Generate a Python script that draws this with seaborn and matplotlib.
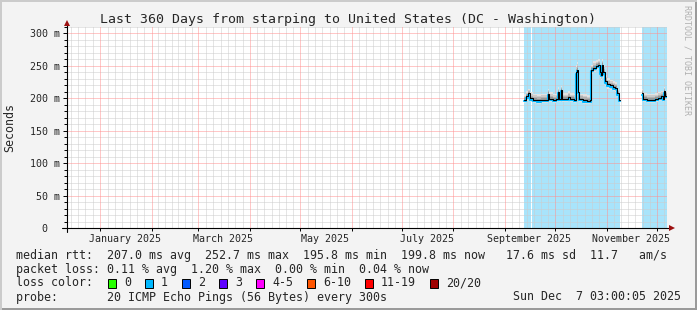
import numpy as np
import pandas as pd
import matplotlib
matplotlib.use("Agg")
import matplotlib.pyplot as plt
import matplotlib.transforms as mtransforms
from matplotlib.patches import Rectangle
from matplotlib.ticker import MultipleLocator, FixedLocator
import seaborn as sns

# ---------------- data ----------------
title = "Last 360 Days from starping to United States (DC - Washington)"
y_label = "Seconds"
ytick_values = [0, 50, 100, 150, 200, 250, 300]
ytick_labels = ["0  ", " 50 m", "100 m", "150 m", "200 m", "250 m", "300 m"]
month_labels = ["January 2025", "March 2025", "May 2025", "July 2025",
                "September 2025", "November 2025"]
month_label_dates = ["2025-01-16 00:00", "2025-03-16 00:00", "2025-05-16 00:00", "2025-07-16 00:00",
                     "2025-09-15 12:00", "2025-11-15 12:00"]
range_start = "2024-12-12 03:00"
range_end = "2025-12-07 03:00"

# light-blue shaded periods (loss indicator)
band_starts = ["2025-09-12 10:00", "2025-09-17 05:00", "2025-11-22 05:00"]
band_ends = ["2025-09-16 14:00", "2025-11-09 00:00", "2025-12-07 03:00"]

# segment 1 (median rtt in ms, smoke range)
seg1_dates = ["2025-09-12 10:00", "2025-09-13 14:00", "2025-09-14 19:00", "2025-09-16 00:00",
              "2025-09-17 19:00", "2025-09-20 05:00", "2025-09-22 14:00", "2025-09-25 00:00",
              "2025-09-26 19:00", "2025-09-27 10:00", "2025-09-29 19:00", "2025-10-01 14:00",
              "2025-10-02 19:00", "2025-10-03 10:00", "2025-10-04 14:00", "2025-10-05 05:00",
              "2025-10-07 00:00", "2025-10-08 19:00", "2025-10-10 00:00", "2025-10-12 10:00",
              "2025-10-13 14:00", "2025-10-14 05:00", "2025-10-14 19:00", "2025-10-15 10:00",
              "2025-10-17 19:00", "2025-10-20 05:00", "2025-10-22 00:00", "2025-10-22 14:00",
              "2025-10-23 19:00", "2025-10-25 14:00", "2025-10-26 19:00", "2025-10-28 00:00",
              "2025-10-28 14:00", "2025-10-29 05:00", "2025-10-29 19:00", "2025-10-31 00:00",
              "2025-11-01 05:00", "2025-11-03 00:00", "2025-11-04 19:00", "2025-11-06 00:00",
              "2025-11-07 05:00", "2025-11-08 10:00", "2025-11-09 00:00"]
seg1_median = [198, 203, 208, 200, 198, 197, 198, 198, 207, 199, 198, 199,
               210, 199, 213, 199, 199, 202, 199, 198, 240, 244, 210, 199,
               197, 196, 197, 244, 247, 250, 252, 240, 236, 252, 240, 226,
               222, 220, 217, 216, 208, 198, 198]
seg1_high = [206, 211, 215, 209, 207, 206, 207, 207, 215, 209, 207, 207,
             217, 208, 219, 208, 208, 211, 208, 207, 252, 256, 217, 207,
             206, 205, 206, 252, 257, 259, 260, 251, 247, 260, 251, 236,
             231, 229, 226, 225, 215, 207, 207]
seg1_low = [193, 196, 200, 194, 193, 192, 193, 193, 199, 194, 193, 194,
            202, 194, 204, 194, 194, 197, 194, 193, 232, 236, 203, 194,
            192, 191, 192, 238, 241, 244, 246, 232, 228, 245, 232, 219,
            215, 213, 211, 210, 202, 193, 193]

# segment 2
seg2_dates = ["2025-11-22 05:00", "2025-11-22 19:00", "2025-11-25 05:00", "2025-11-27 14:00",
              "2025-11-30 00:00", "2025-12-01 19:00", "2025-12-03 14:00", "2025-12-04 19:00",
              "2025-12-05 10:00", "2025-12-06 00:00", "2025-12-07 00:00"]
seg2_median = [208, 199, 198, 198, 199, 201, 203, 199, 211, 204, 204]
seg2_high = [215, 208, 207, 207, 208, 210, 212, 208, 217, 212, 212]
seg2_low = [200, 194, 193, 193, 194, 196, 198, 194, 203, 198, 198]

stats_line1 = "median rtt:  207.0 ms avg  252.7 ms max  195.8 ms min  199.8 ms now   17.6 ms sd  11.7   am/s"
stats_line2 = "packet loss: 0.11 % avg  1.20 % max  0.00 % min  0.04 % now"
loss_title = "loss color:"
loss_labels = ["0", "1", "2", "3", "4-5", "6-10", "11-19", "20/20"]
loss_colors = ["#26ff00", "#00b8ff", "#0059ff", "#5e00ff", "#ff00ff", "#ff5500", "#ff0000", "#a00000"]
probe_line = "probe:       20 ICMP Echo Pings (56 Bytes) every 300s"
timestamp = "Sun Dec  7 03:00:05 2025"
watermark = "RRDTOOL / TOBI OETIKER"

# ---------------- style ----------------
sns.set_style("white")
plt.rcParams["font.family"] = ["DejaVu Sans Mono", "DejaVu Sans"]

W, H = 697, 310
BACK = "#f3f3f3"
fig = plt.figure(figsize=(W / 100, H / 100), dpi=100, facecolor=BACK)

def fx(px):
    return px / W

def fy(py):
    return 1 - py / H

ax_left, ax_right, ax_top, ax_bottom = 67, 667, 27, 228
ax = fig.add_axes([fx(ax_left), fy(ax_bottom), (ax_right - ax_left) / W, (ax_bottom - ax_top) / H])
ax.set_facecolor("white")

t0 = pd.Timestamp(range_start)
t1 = pd.Timestamp(range_end)

dot = (0, (1, 1))
px_lw = 0.72
grey_grid = "#cccccc"
red_grid = "#ff9090"

# light blue bands
for s, e in zip(band_starts, band_ends):
    ax.axvspan(pd.Timestamp(s), pd.Timestamp(e), color="#a8e4fb", lw=0, zorder=0.5)

# grid (drawn manually so two x styles are possible)
months = pd.date_range("2024-12-01", "2026-01-01", freq="MS")
for i in range(len(months) - 1):
    m0, m1 = months[i], months[i + 1]
    step = (m1 - m0) / 7
    for k in range(1, 7):
        t = m0 + step * k
        if t0 < t < t1:
            ax.axvline(t, color=grey_grid, lw=px_lw, ls=dot, zorder=1)
for v in np.arange(10, 311, 10):
    if v % 50:
        ax.axhline(v, color=grey_grid, lw=px_lw, ls=dot, zorder=1)
for m in months:
    if t0 < m < t1:
        ax.axvline(m, color=red_grid, lw=px_lw, ls=dot, zorder=1.1)
for v in ytick_values[1:]:
    ax.axhline(v, color=red_grid, lw=px_lw, ls=dot, zorder=1.1)

# smoke + median lines
smoke_colors = ["#e2e2e2", "#cbcbcb", "#b2b2b2", "#959595"]
smoke_fracs = [1.0, 0.72, 0.48, 0.26]
blue_tr = mtransforms.offset_copy(ax.transData, fig=fig, y=-1.5, units="dots")
for dates, med, lo, hi in [(seg1_dates, seg1_median, seg1_low, seg1_high),
                           (seg2_dates, seg2_median, seg2_low, seg2_high)]:
    d = pd.to_datetime(dates)
    med = np.array(med, float)
    lo = np.array(lo, float)
    hi = np.array(hi, float)
    for c, f in zip(smoke_colors, smoke_fracs):
        ax.fill_between(d, med - (med - lo) * f, med + (hi - med) * f, step="post",
                        color=c, lw=0, zorder=2)
    df = pd.DataFrame({"date": d, "median": med})
    sns.lineplot(data=df, x="date", y="median", ax=ax, estimator=None, drawstyle="steps-post",
                 color="#00b8ff", lw=1.5, zorder=3)
    ax.lines[-1].set_transform(blue_tr)
    sns.lineplot(data=df, x="date", y="median", ax=ax, estimator=None, drawstyle="steps-post",
                 color="black", lw=0.75, zorder=4)

ax.set_xlabel("")
ax.set_ylabel("")
ax.set_xlim(t0, t1)
ax.set_ylim(0, 310)

# ticks
tick_font = 7.2
ax.set_yticks(ytick_values)
ax.set_yticklabels(ytick_labels, fontsize=tick_font)
ax.yaxis.set_minor_locator(MultipleLocator(10))
ax.tick_params(axis="y", which="major", length=3, width=0.7, pad=2, color="black", left=True)
ax.tick_params(axis="y", which="minor", length=2, width=0.7, color="black", left=True)
ax.set_xticks(pd.to_datetime(month_label_dates))
ax.set_xticklabels(month_labels, fontsize=tick_font)
ax.tick_params(axis="x", which="major", length=0, pad=4)
ax.xaxis.set_minor_locator(FixedLocator([matplotlib.dates.date2num(m) for m in months if t0 < m < t1]))
ax.tick_params(axis="x", which="minor", length=2, width=0.7, color="black", bottom=True)

for sp in ax.spines.values():
    sp.set_visible(False)

# axis lines with arrows
axis_col = "black"
ax.plot([-5 / 600, 1 + 3 / 600], [0, 0], transform=ax.transAxes, color=axis_col, lw=0.8,
        clip_on=False, zorder=6)
ax.plot([0, 0], [-4 / 201, 1 + 3 / 201], transform=ax.transAxes, color=axis_col, lw=0.8,
        clip_on=False, zorder=6)
ax.plot([0], [1 + 4 / 201], transform=ax.transAxes, marker="^", ms=4, color="#9c1010",
        clip_on=False, zorder=7, mew=0)
ax.plot([1 + 5 / 600], [0], transform=ax.transAxes, marker=">", ms=4, color="#9c1010",
        clip_on=False, zorder=7, mew=0)

# texts
fig.text(fx(348), fy(19), title, ha="center", va="center", fontsize=9.5)
fig.text(fx(10), fy(127), y_label, ha="center", va="center", rotation=90, fontsize=8.4)
fig.text(fx(687), fy(5), watermark, ha="center", va="top", rotation=270, fontsize=6,
         color="#b0b0b0")

lfs = 8.4
fig.text(fx(16), fy(256), stats_line1, ha="left", va="center", fontsize=lfs)
fig.text(fx(16), fy(269.5), stats_line2, ha="left", va="center", fontsize=lfs)
fig.text(fx(16), fy(283), loss_title, ha="left", va="center", fontsize=lfs)
fig.text(fx(16), fy(297), probe_line, ha="left", va="center", fontsize=lfs)
fig.text(fx(681), fy(297), timestamp, ha="right", va="center", fontsize=lfs)

char_w = 7.0
bx = 108
for lab, col in zip(loss_labels, loss_colors):
    fig.patches.append(Rectangle((fx(bx), fy(287.5)), 8 / W, 9 / H, transform=fig.transFigure,
                                 facecolor=col, edgecolor="black", lw=0.7))
    fig.text(fx(bx + 16), fy(283), lab, ha="left", va="center", fontsize=lfs)
    bx = bx + 16 + len(lab) * char_w + 14

# frame (3D look)
fig.patches.append(Rectangle((0, 0), 1, 2 / H, transform=fig.transFigure, color="#9a9a9a", lw=0))
fig.patches.append(Rectangle((1 - 2 / W, 0), 2 / W, 1, transform=fig.transFigure, color="#9a9a9a", lw=0))
fig.patches.append(Rectangle((0, 1 - 2 / H), 1, 2 / H, transform=fig.transFigure, color="#cbcbcb", lw=0))
fig.patches.append(Rectangle((0, 0), 2 / W, 1, transform=fig.transFigure, color="#cbcbcb", lw=0))

fig.savefig("out.png", dpi=100, facecolor=BACK)
